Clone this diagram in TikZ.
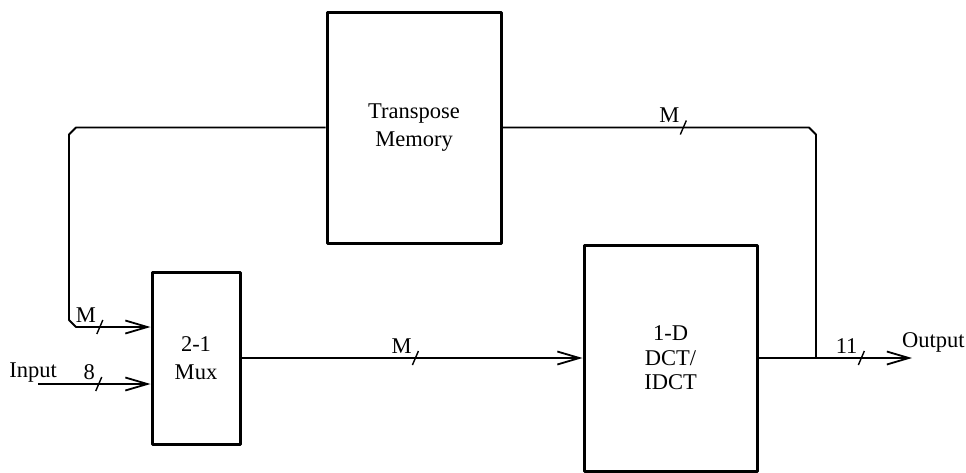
\documentclass[tikz,border=0pt]{standalone}
\usepackage{fontspec}
\setmainfont{Liberation Serif}
\usetikzlibrary{arrows.meta}

\begin{document}
\begin{tikzpicture}[x=1pt, y=-1pt, font=\fontsize{22.5}{28}\selectfont, line join=round, >={Straight Barb[length=22pt,width=13pt]},
		block/.style={draw, line width=3pt, align=center, inner sep=0pt},
		wire/.style={line width=1.8pt},
		bus/.pic={\draw[-, line width=1.4pt] (-3,7) -- (3,-7);
			\node[anchor=base east, inner sep=0pt] at (-3,-5) {#1};}]
	\useasboundingbox (0,0) rectangle (966,472);
	\node[block, minimum width=174pt, minimum height=231pt] (mem) at (414,127.5) {Transpose\\Memory};
	\node[block, minimum width=88pt, minimum height=172pt] (mux) at (196,358) {2-1\\Mux};
	\node[block, minimum width=173pt, minimum height=226pt, font=\fontsize{22.5}{24.5}\selectfont] (dct) at (670.5,358) {1-D\\DCT/\\IDCT};
	\coordinate (in) at (38,384);
	\coordinate (out) at (912,358);
	\coordinate (tap) at (816,358);
	\node[anchor=base east, inner sep=0pt] (inlbl) at (57,377) {Input};
	\node[anchor=base west, inner sep=0pt] (outlbl) at (902,347) {Output};
	% data path
	\draw[wire,->] (in) -- pic[pos=0.54]{bus=8} (in -| mux.west);
	\draw[wire,->] (mux.east) -- pic[pos=0.51]{bus=M} (dct.west);
	\draw[wire,->] (dct.east) -- pic[pos=0.67]{bus=11} (out);
	% feedback through the transpose memory
	\draw[wire] (tap) -- (816,134.5) -- ++(-7,-7) -- pic[pos=0.41]{bus=M} (mem.east);
	\draw[wire,->] (mem.west) -- (76,127.5) -- ++(-7,7) -- (69,320) -- ++(7,7) -- pic[pos=0.32]{bus=M} ([yshift=31pt]mux.west);
\end{tikzpicture}
\end{document}
